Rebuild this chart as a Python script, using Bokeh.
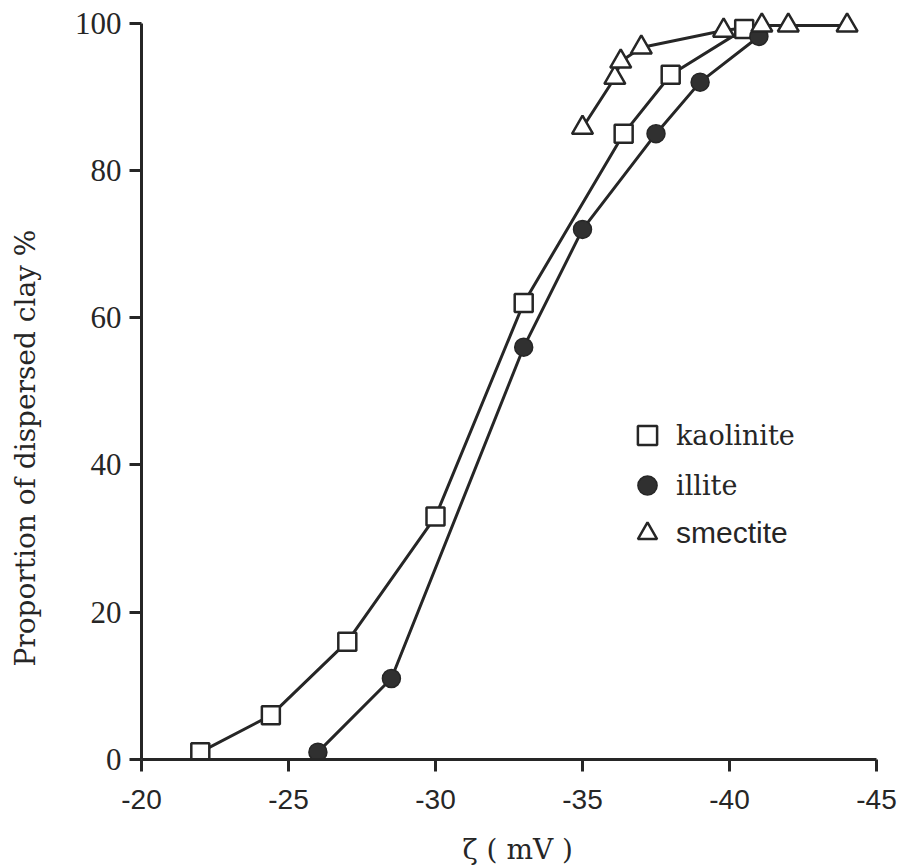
from bokeh.plotting import figure
from bokeh.models import Range1d, FixedTicker, Legend, LegendItem, Title
from bokeh.embed import file_html
from bokeh.resources import INLINE

# ---- data ----
kaolinite_x = [-22.0, -24.4, -27.0, -30.0, -33.0, -36.4, -38.0, -40.5]
kaolinite_y = [1.0, 6.0, 16.0, 33.0, 62.0, 85.0, 93.0, 99.2]
illite_x = [-26.0, -28.5, -33.0, -35.0, -37.5, -39.0, -41.0]
illite_y = [1.0, 11.0, 56.0, 72.0, 85.0, 92.0, 98.2]
smectite_x = [-35.0, -36.1, -36.3, -37.0, -39.8, -41.1, -42.0, -44.0]
smectite_y = [85.8, 92.6, 94.8, 96.7, 99.0, 99.7, 99.7, 99.7]
x_ticks = [-20, -25, -30, -35, -40, -45]
x_tick_labels = ["-20", "-25", "-30", "-35", "-40", "-45"]
y_ticks = [0, 20, 40, 60, 80, 100]
x_title = "ζ ( mV )"
y_title = "Proportion of dispersed clay %"

INK = "#262626"
SERIF = "Liberation Serif"
WIDE_SERIF = "DejaVu Serif"
SANS = "Liberation Sans"

p = figure(width=901, height=867, output_backend="svg", toolbar_location=None,
           x_range=Range1d(-20, -45), y_range=Range1d(0, 102),
           min_border_left=141, min_border_right=25, min_border_top=8, min_border_bottom=108)
p.outline_line_color = None
p.grid.visible = False
p.background_fill_color = "white"
p.border_fill_color = "white"

# axes
for ax in (p.xaxis[0], p.yaxis[0]):
    ax.axis_line_color = INK
    ax.axis_line_width = 3
    ax.major_tick_line_color = INK
    ax.major_tick_line_width = 3
    ax.major_tick_in = 0
    ax.major_tick_out = 12
    ax.minor_tick_line_color = None
    ax.major_label_text_color = INK

p.xaxis.ticker = FixedTicker(ticks=x_ticks)
p.xaxis.major_label_overrides = {t: l for t, l in zip(x_ticks, x_tick_labels)}
p.xaxis.bounds = (-20, -45)
p.xaxis.major_label_text_font = SANS
p.xaxis.major_label_text_font_size = "28px"
p.xaxis.major_label_standoff = 18

p.yaxis.ticker = FixedTicker(ticks=y_ticks)
p.yaxis.bounds = (0, 100)
p.yaxis.major_label_text_font = SERIF
p.yaxis.major_label_text_font_size = "31px"
p.yaxis.major_label_standoff = 8

# axis titles (an empty line pushes each title away from its axis)
xt = Title(text="\n" + x_title, align="left", offset=321, standoff=0,
           text_font=WIDE_SERIF, text_font_size="28px", text_color=INK,
           text_font_style="normal", text_line_height=0.6)
yt = Title(text=y_title + "\n", align="left", offset=93, standoff=7,
           text_font=WIDE_SERIF, text_font_size="28px", text_color=INK,
           text_font_style="normal", text_line_height=0.8)
p.add_layout(xt, "below")
p.add_layout(yt, "left")

# lines
p.line(kaolinite_x, kaolinite_y, line_color=INK, line_width=3)
p.line(illite_x, illite_y, line_color=INK, line_width=3)
p.line(smectite_x, smectite_y, line_color=INK, line_width=3)

# markers
rk = p.scatter(kaolinite_x, kaolinite_y, marker="square", size=18,
               fill_color="white", line_color=INK, line_width=2.5)
ri = p.scatter(illite_x, illite_y, marker="circle", size=18,
               fill_color="#303030", line_color=INK, line_width=1.5)
rs = p.scatter(smectite_x, smectite_y, marker="triangle", size=21,
               fill_color="white", line_color=INK, line_width=2.5)

leg1 = Legend(items=[LegendItem(label="kaolinite", renderers=[rk]),
                     LegendItem(label="illite", renderers=[ri])],
              location=(482, 250), orientation="vertical")
leg2 = Legend(items=[LegendItem(label="smectite", renderers=[rs])],
              location=(482, 202), orientation="vertical")
for lg, font, fsize in ((leg1, WIDE_SERIF, "27px"), (leg2, SANS, "30px")):
    lg.border_line_color = None
    lg.background_fill_alpha = 0
    lg.padding = 0
    lg.margin = 0
    lg.spacing = 2
    lg.glyph_width = 48
    lg.glyph_height = 48
    lg.label_height = 48
    lg.label_standoff = 5
    lg.label_text_font = font
    lg.label_text_font_size = fsize
    lg.label_text_color = INK
    p.add_layout(lg)

open("out.html", "w").write(file_html(p, INLINE))
